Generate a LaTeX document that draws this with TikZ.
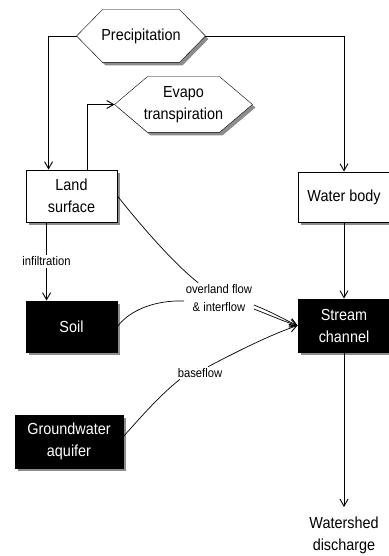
\documentclass[tikz,border=0pt]{standalone}
\usepackage{fontspec}
\setmainfont{Liberation Sans}[FakeStretch=0.9]
\usetikzlibrary{arrows.meta,backgrounds}
\begin{document}
\begin{tikzpicture}[x=1pt,y=-1pt,
  line width=0.9pt,
  tip/.style={-{Straight Barb[length=7pt,width=8pt,line width=0.9pt]}},
  shadowfill/.style={fill=black!45,draw=none},
  whitebox/.style={draw=black,fill=white,align=center,font=\fontsize{16}{22}\selectfont,inner sep=0pt},
  blackbox/.style={draw=black,fill=black,text=white,align=center,font=\fontsize{16}{22}\selectfont,inner sep=0pt},
  hexnode/.style={align=center,font=\fontsize{16}{22}\selectfont,inner sep=0pt},
  hexa/.style={draw=black,fill=white,line join=miter},
  lab/.style={fill=white,align=center,inner sep=1.5pt,font=\fontsize{12.5}{18}\selectfont},
  flow/.style={line width=0.7pt}
]
\useasboundingbox (0,0) rectangle (388,556);

\node[hexnode,minimum width=128pt,minimum height=52pt] (prec) at (141,36) {Precipitation};
\node[hexnode,minimum width=137pt,minimum height=55pt] (evap) at (183.5,104.5) {Evapo\\transpiration};
\node[whitebox,minimum width=91pt,minimum height=52pt] (land) at (71.5,196) {Land\\surface};
\node[whitebox,minimum width=92pt,minimum height=50pt] (water) at (344,197) {Water body};
\node[blackbox,minimum width=91pt,minimum height=51pt] (soil) at (71.5,326.5) {Soil};
\node[blackbox,minimum width=92pt,minimum height=53pt] (stream) at (344,325.5) {Stream\\channel};
\node[blackbox,minimum width=108pt,minimum height=53pt] (ground) at (69,441.5) {Groundwater\\aquifer};
\node[hexnode,font=\fontsize{16}{22}\selectfont,anchor=north] (dis) at (344,516) {Watershed\\discharge};

\begin{pgfonlayer}{background}
\foreach \n in {land,water,soil,stream,ground}{
  \fill[shadowfill] ([shift={(3pt,-3pt)}]\n.south west) rectangle ([shift={(3pt,-3pt)}]\n.north east);
}
\begin{scope}[transform canvas={shift={(3pt,-3pt)}}]
\path[shadowfill] (prec.west) -- ([xshift=26pt]prec.north west) -- ([xshift=-26pt]prec.north east) -- (prec.east) -- ([xshift=-26pt]prec.south east) -- ([xshift=26pt]prec.south west) -- cycle;
\path[shadowfill] (evap.west) -- ([xshift=33pt]evap.north west) -- ([xshift=-33pt]evap.north east) -- (evap.east) -- ([xshift=-33pt]evap.south east) -- ([xshift=33pt]evap.south west) -- cycle;
\end{scope}
\path[hexa] (prec.west) -- ([xshift=26pt]prec.north west) -- ([xshift=-26pt]prec.north east) -- (prec.east) -- ([xshift=-26pt]prec.south east) -- ([xshift=26pt]prec.south west) -- cycle;
\path[hexa] (evap.west) -- ([xshift=33pt]evap.north west) -- ([xshift=-33pt]evap.north east) -- (evap.east) -- ([xshift=-33pt]evap.south east) -- ([xshift=33pt]evap.south west) -- cycle;
\end{pgfonlayer}

\draw[tip] (prec.west) -| ([xshift=23pt]land.north west);
\draw[tip] (prec.east) -| (water.north);
\draw[tip] ([xshift=62pt]land.north west) |- (evap.west);
\draw[tip] ([xshift=21pt]land.south west) -- node[lab] (inf) {infiltration} ([xshift=21pt]soil.north west);
\draw[tip] (water.south) -- (stream.north);
\draw[tip] (stream.south) -- ([yshift=9pt]dis.north);

\node[lab] (ovl) at (219,298) {overland flow\\\& interflow};
\node[lab] (base) at (200,373) {baseflow};

\draw[flow] (land.east) .. controls (138,222) and (172,262) .. ([xshift=14pt]ovl.north west);
\draw[flow] (soil.east) .. controls (130,310) and (155,300) .. ([yshift=-3pt]ovl.west);
\draw[flow,tip] ([yshift=-7pt]ovl.east) .. controls (272,312) and (285,320) .. (stream.west);
\draw[flow,tip] ([yshift=-11pt]ovl.east) .. controls (272,316) and (285,322) .. (stream.west);
\draw[flow] ([yshift=5pt]ground.east) .. controls (140,418) and (160,395) .. ([xshift=-20pt]base.south);
\draw[flow,tip] ([xshift=8pt]base.north) .. controls (240,350) and (270,335) .. (stream.west);
\end{tikzpicture}
\end{document}
